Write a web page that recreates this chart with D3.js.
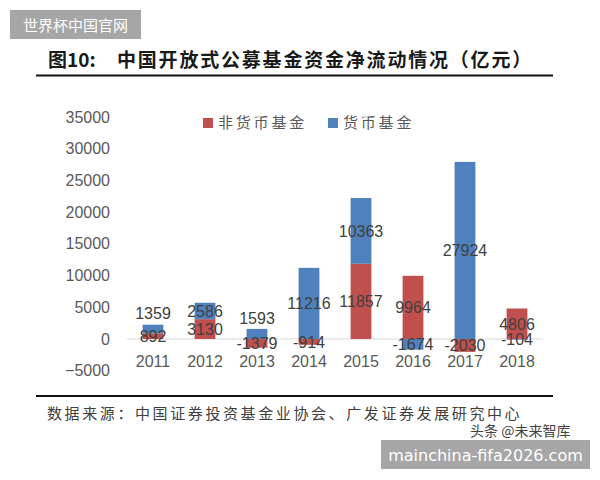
<!DOCTYPE html>
<html>
<head>
<meta charset="utf-8">
<script src="https://cdn.jsdelivr.net/npm/d3@7"></script>
<style>
  body { margin: 0; background: #fff; }
  svg { display: block; }
</style>
</head>
<body>
<div id="chart"></div>
<script>
var years = ['2011', '2012', '2013', '2014', '2015', '2016', '2017', '2018'];
var nonMoney = [892, 3130, -1379, -914, 11857, 9964, -2030, 4806];
var money = [1359, 2586, 1593, 11216, 10363, -1674, 27924, -104];
var seriesNames = ['非货币基金', '货币基金'];
var seriesColors = ['#C0504D', '#4F81BD'];
var yTicks = [-5000, 0, 5000, 10000, 15000, 20000, 25000, 30000, 35000];

var width = 600, height = 480;
var latin = 'Arial, "Liberation Sans", sans-serif';
var cjk = '"Noto Sans CJK SC", sans-serif';

var svg = d3.select('#chart').append('svg')
    .attr('width', width)
    .attr('height', height);

// watermark top-left
svg.append('rect')
    .attr('x', 10).attr('y', 10)
    .attr('width', 131).attr('height', 29)
    .attr('fill', '#a6a6a6');
svg.append('text')
    .attr('x', 75.5).attr('y', 30.5)
    .attr('text-anchor', 'middle')
    .attr('fill', '#fff')
    .style('font-family', cjk)
    .style('font-size', '15px')
    .text('世界杯中国官网');

// title
svg.append('text')
    .attr('x', 48).attr('y', 67)
    .attr('fill', '#1a1a1a')
    .style('font-family', cjk)
    .style('font-weight', 'bold')
    .style('font-size', '19px')
    .text('图10:');
svg.append('text')
    .attr('x', 117).attr('y', 67)
    .attr('fill', '#1a1a1a')
    .style('font-family', cjk)
    .style('font-weight', 'bold')
    .style('font-size', '19px')
    .style('letter-spacing', '1.8px')
    .text('中国开放式公募基金资金净流动情况（亿元）');

svg.append('line')
    .attr('x1', 36).attr('x2', 553)
    .attr('y1', 75.5).attr('y2', 75.5)
    .attr('stroke', '#111').attr('stroke-width', 2);

svg.append('line')
    .attr('x1', 36).attr('x2', 553)
    .attr('y1', 396).attr('y2', 396)
    .attr('stroke', '#111').attr('stroke-width', 2);

// source
svg.append('text')
    .attr('x', 47).attr('y', 419)
    .attr('fill', '#404040')
    .style('font-family', cjk)
    .style('font-size', '15px')
    .style('letter-spacing', '2.6px')
    .text('数据来源：中国证券投资基金业协会、广发证券发展研究中心');

svg.append('text')
    .attr('x', 470).attr('y', 436)
    .attr('fill', '#444')
    .style('font-family', cjk)
    .style('font-size', '14px')
    .text('头条 @未来智库');

// watermark bottom-right
svg.append('rect')
    .attr('x', 381).attr('y', 440)
    .attr('width', 209).attr('height', 29)
    .attr('fill', '#a6a6a6');
svg.append('text')
    .attr('x', 485.5).attr('y', 461)
    .attr('text-anchor', 'middle')
    .attr('fill', '#fff')
    .style('font-family', '"DejaVu Sans", sans-serif')
    .style('font-size', '16px')
    .text('mainchina-fifa2026.com');

// scales
var x = d3.scaleBand()
    .domain(years)
    .range([127, 543])
    .paddingInner(0.6)
    .paddingOuter(0.3);

var y = d3.scaleLinear()
    .domain([-5000, 35000])
    .range([370.7, 117]);

// y axis labels
var yAxis = svg.append('g')
    .attr('transform', 'translate(110,0)')
    .call(d3.axisLeft(y).tickValues(yTicks).tickFormat(d3.format('d')).tickSize(0).tickPadding(0));
yAxis.select('.domain').remove();
yAxis.selectAll('text')
    .attr('fill', '#595959')
    .style('font-family', latin)
    .style('font-size', '16px');

// zero line
svg.append('line')
    .attr('x1', 127).attr('x2', 543)
    .attr('y1', y(0)).attr('y2', y(0))
    .attr('stroke', '#d9d9d9').attr('stroke-width', 1);

// stacked data
var table = years.map(function (yr, i) {
  return { year: yr, nonMoney: nonMoney[i], money: money[i] };
});
var keys = ['nonMoney', 'money'];
var stacked = d3.stack()
    .keys(keys)
    .offset(d3.stackOffsetDiverging)(table);

var layers = svg.selectAll('g.layer')
    .data(stacked)
    .enter()
    .append('g')
    .attr('class', 'layer')
    .attr('fill', function (d, i) { return seriesColors[i]; });

layers.selectAll('rect')
    .data(function (d) { return d; })
    .enter()
    .append('rect')
    .attr('x', function (d) { return x(d.data.year); })
    .attr('width', x.bandwidth())
    .attr('y', function (d) { return y(Math.max(d[0], d[1])); })
    .attr('height', function (d) { return Math.abs(y(d[0]) - y(d[1])); });

// x category labels
svg.selectAll('text.year')
    .data(years)
    .enter()
    .append('text')
    .attr('class', 'year')
    .attr('x', function (d) { return x(d) + x.bandwidth() / 2; })
    .attr('y', 367)
    .attr('text-anchor', 'middle')
    .attr('fill', '#595959')
    .style('font-family', latin)
    .style('font-size', '16px')
    .text(function (d) { return d; });

// data labels
var labelData = [];
stacked.forEach(function (layer, li) {
  layer.forEach(function (d) {
    var top = y(Math.max(d[0], d[1]));
    var bot = y(Math.min(d[0], d[1]));
    var cy = (top + bot) / 2;
    var value = d.data[keys[li]];
    // small positive top segment: label sits above the bar
    if (li === 1 && value > 0 && d[0] >= 0 && bot - top < 14) cy = top - 11;
    labelData.push({ year: d.data.year, value: value, cy: cy });
  });
});

svg.selectAll('text.dlabel')
    .data(labelData)
    .enter()
    .append('text')
    .attr('class', 'dlabel')
    .attr('x', function (d) { return x(d.year) + x.bandwidth() / 2; })
    .attr('y', function (d) { return d.cy; })
    .attr('dy', '0.36em')
    .attr('text-anchor', 'middle')
    .attr('fill', '#404040')
    .style('font-family', latin)
    .style('font-size', '16px')
    .text(function (d) { return d.value; });

// legend
var legend = svg.selectAll('g.legend')
    .data(seriesNames)
    .enter()
    .append('g')
    .attr('class', 'legend')
    .attr('transform', function (d, i) { return 'translate(' + (i === 0 ? 203 : 328) + ',118)'; });
legend.append('rect')
    .attr('width', 10).attr('height', 10)
    .attr('fill', function (d, i) { return seriesColors[i]; });
legend.append('text')
    .attr('x', 15).attr('y', 10)
    .attr('fill', '#595959')
    .style('font-family', cjk)
    .style('font-size', '15px')
    .style('letter-spacing', '2.8px')
    .text(function (d) { return d; });
</script>
</body>
</html>
